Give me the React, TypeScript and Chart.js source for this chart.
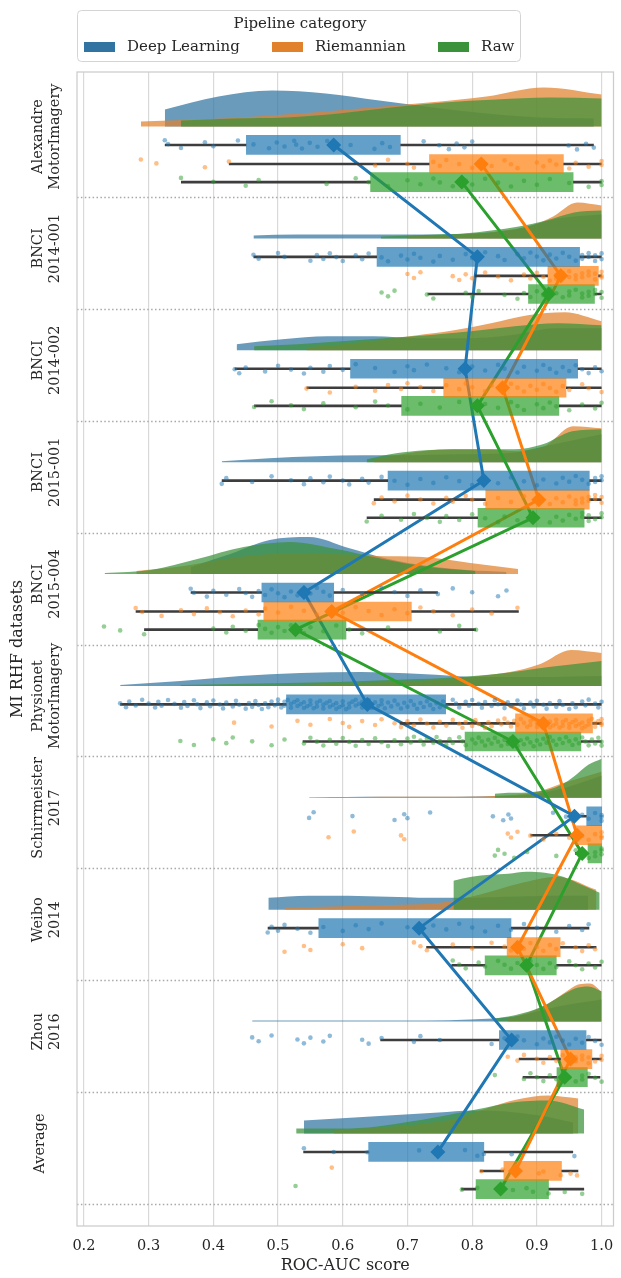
import { useEffect, useRef } from 'react';
import { Chart, registerables } from 'chart.js';

Chart.register(...registerables);

// rows of the plot, top to bottom (last row is the average over datasets)
const datasetNames: string[][] = [
  ['Alexandre', 'MotorImagery'],
  ['BNCI', '2014-001'],
  ['BNCI', '2014-002'],
  ['BNCI', '2015-001'],
  ['BNCI', '2015-004'],
  ['Physionet', 'MotorImagery'],
  ['Schirrmeister', '2017'],
  ['Weibo', '2014'],
  ['Zhou', '2016'],
  ['Average'],
];
const categories = ['Deep Learning', 'Riemannian', 'Raw'];
const xTicks = [0.2, 0.3, 0.4, 0.5, 0.6, 0.7, 0.8, 0.9, 1.0];

// box plot statistics (whisker low, q1, q3, whisker high, mean)
const dlLow = [0.325, 0.462, 0.433, 0.413, 0.365, 0.256, 0.951, 0.484, 0.658, 0.539];
const dlQ1 = [0.451, 0.653, 0.612, 0.670, 0.475, 0.513, 0.977, 0.563, 0.842, 0.640];
const dlQ3 = [0.689, 0.966, 0.963, 0.981, 0.586, 0.759, 1.0, 0.860, 0.976, 0.818];
const dlHigh = [0.988, 1.0, 1.0, 1.0, 0.747, 1.0, 1.0, 0.981, 1.0, 0.956];
const dlMean = [0.586, 0.808, 0.789, 0.818, 0.540, 0.638, 0.958, 0.718, 0.861, 0.747];

const rmLow = [0.424, 0.804, 0.544, 0.648, 0.280, 0.688, 0.890, 0.729, 0.872, 0.812];
const rmQ1 = [0.734, 0.917, 0.756, 0.821, 0.478, 0.867, 0.959, 0.854, 0.937, 0.849];
const rmQ3 = [0.941, 0.995, 0.945, 0.981, 0.706, 0.986, 1.0, 0.936, 0.985, 0.938];
const rmHigh = [1.0, 1.0, 1.0, 1.0, 0.872, 1.0, 1.0, 0.992, 1.0, 0.964];
const rmMean = [0.814, 0.937, 0.847, 0.903, 0.583, 0.910, 0.962, 0.870, 0.952, 0.867];

const rawLow = [0.350, 0.731, 0.463, 0.637, 0.293, 0.538, 0.959, 0.768, 0.878, 0.783];
const rawQ1 = [0.643, 0.887, 0.691, 0.809, 0.469, 0.789, 0.979, 0.820, 0.931, 0.806];
const rawQ3 = [0.956, 0.989, 0.934, 0.973, 0.605, 0.968, 1.0, 0.930, 0.978, 0.918];
const rawHigh = [1.0, 1.0, 1.0, 1.0, 0.806, 1.0, 1.0, 1.0, 0.998, 0.973];
const rawMean = [0.784, 0.918, 0.808, 0.894, 0.527, 0.863, 0.970, 0.884, 0.943, 0.844];

// half-violin density: [from, to, density samples evenly spread between]
const dlKde: [number, number, number[]][] = [
  [0.325, 0.988, [17, 30, 36, 33, 26, 19, 13, 9, 8]],
  [0.462, 1.0, [3, 4, 4, 4, 4, 5, 9, 20, 24]],
  [0.436, 1.0, [6, 11, 14, 14, 12, 12, 15, 22, 22]],
  [0.413, 1.0, [1, 4, 6, 7, 7, 8, 9, 18, 28]],
  [0.365, 0.853, [7, 20, 34, 37, 26, 15, 8, 4, 2]],
  [0.256, 1.0, [1, 5, 10, 13, 14, 12, 9, 9, 10]],
  [0.548, 1.0, [0.5, 0.7, 1, 1, 1, 1.5, 3, 10, 22]],
  [0.485, 0.979, [12, 14, 14, 13, 12, 12, 13, 14, 14]],
  [0.46, 1.0, [1, 1, 1, 1, 1, 2, 5, 15, 22]],
  [0.54, 0.956, [13, 15, 17, 19, 21, 23, 22, 18, 11]],
];
const rmKde: [number, number, number[]][] = [
  [0.288, 1.0, [5, 7, 10, 14, 19, 24, 30, 39, 32]],
  [0.70, 1.0, [2, 3, 4, 5, 8, 12, 22, 36, 33]],
  [0.544, 1.0, [3, 6, 10, 15, 20, 27, 35, 38, 29]],
  [0.648, 1.0, [3, 8, 12, 13, 13, 11, 16, 36, 34]],
  [0.281, 0.871, [3, 8, 16, 20, 20, 18, 17, 11, 5]],
  [0.432, 1.0, [1, 1, 1, 2, 3, 4, 5, 7, 10, 14, 22, 36, 33]],
  [0.578, 1.0, [0.5, 0.7, 1, 1, 1, 2, 5, 16, 26]],
  [0.51, 0.992, [2, 3, 4, 5, 7, 15, 26, 33, 20]],
  [0.855, 1.0, [3, 6, 10, 15, 22, 30, 37, 38, 30]],
  [0.586, 0.964, [3, 5, 7, 10, 15, 25, 34, 38, 35]],
];
const rawKde: [number, number, number[]][] = [
  [0.35, 1.0, [6, 8, 9, 13, 19, 24, 27, 29, 28]],
  [0.659, 1.0, [2, 3, 4, 5, 8, 12, 18, 26, 28]],
  [0.463, 1.0, [4, 6, 9, 12, 15, 19, 24, 27, 25]],
  [0.637, 1.0, [3, 9, 12, 13, 13, 13, 18, 31, 33]],
  [0.232, 0.805, [1, 4, 15, 27, 32, 25, 15, 7, 3]],
  [0.349, 1.0, [1, 2, 3, 4, 6, 8, 12, 19, 25]],
  [0.835, 1.0, [4, 5, 5, 6, 8, 13, 22, 33, 39]],
  [0.771, 0.997, [29, 33, 35, 36, 38, 37, 33, 25, 17]],
  [0.835, 1.0, [3, 5, 8, 12, 18, 26, 33, 35, 30]],
  [0.528, 0.973, [5, 5, 6, 11, 17, 24, 31, 33, 24]],
];

// individual scores (strip points), one list per dataset
const dlScores: number[][] = [
  [0.325, 0.33, 0.35, 0.387, 0.40, 0.438, 0.462, 0.486, 0.498, 0.51, 0.525, 0.528, 0.537, 0.549, 0.561, 0.576, 0.612, 0.649, 0.661, 0.673, 0.725, 0.749, 0.764, 0.776, 0.788, 0.80, 0.949, 0.962, 0.976, 0.988],
  [0.462, 0.47, 0.50, 0.51, 0.55, 0.56, 0.57, 0.58, 0.59, 0.60, 0.62, 0.63, 0.64, 0.66, 0.67, 0.69, 0.70, 0.71, 0.72, 0.74, 0.75, 0.77, 0.79, 0.80, 0.82, 0.84, 0.85, 0.87, 0.88, 0.89, 0.90, 0.91, 0.92, 0.93, 0.94, 0.95, 0.96, 0.97, 0.97, 0.98, 0.98, 0.99, 0.99, 1.0, 1.0],
  [0.433, 0.44, 0.45, 0.48, 0.50, 0.52, 0.54, 0.55, 0.57, 0.58, 0.60, 0.62, 0.65, 0.68, 0.70, 0.71, 0.73, 0.76, 0.78, 0.80, 0.82, 0.84, 0.85, 0.87, 0.88, 0.90, 0.91, 0.92, 0.93, 0.94, 0.95, 0.96, 0.97, 0.98, 0.99, 1.0],
  [0.413, 0.42, 0.46, 0.49, 0.52, 0.54, 0.55, 0.57, 0.58, 0.60, 0.61, 0.63, 0.64, 0.66, 0.68, 0.70, 0.72, 0.74, 0.76, 0.78, 0.80, 0.82, 0.84, 0.86, 0.88, 0.90, 0.91, 0.93, 0.94, 0.95, 0.96, 0.97, 0.98, 0.99, 0.99, 1.0, 1.0],
  [0.365, 0.37, 0.39, 0.40, 0.42, 0.44, 0.45, 0.46, 0.47, 0.48, 0.49, 0.50, 0.51, 0.52, 0.53, 0.54, 0.55, 0.56, 0.57, 0.58, 0.60, 0.63, 0.66, 0.68, 0.70, 0.72, 0.747, 0.77, 0.80, 0.84, 0.853],
  [0.256, 0.265, 0.27, 0.28, 0.29, 0.30, 0.31, 0.315, 0.32, 0.33, 0.34, 0.35, 0.355, 0.36, 0.37, 0.375, 0.38, 0.39, 0.395, 0.40, 0.41, 0.415, 0.42, 0.43, 0.435, 0.44, 0.45, 0.455, 0.46, 0.465, 0.47, 0.475, 0.48, 0.485, 0.49, 0.495, 0.50, 0.50, 0.505, 0.51, 0.51, 0.515, 0.52, 0.52, 0.525, 0.53, 0.53, 0.535, 0.54, 0.54, 0.545, 0.55, 0.55, 0.555, 0.56, 0.56, 0.565, 0.57, 0.57, 0.575, 0.58, 0.58, 0.585, 0.59, 0.59, 0.595, 0.60, 0.60, 0.605, 0.61, 0.61, 0.615, 0.62, 0.62, 0.625, 0.63, 0.63, 0.635, 0.64, 0.64, 0.645, 0.65, 0.655, 0.66, 0.66, 0.665, 0.67, 0.675, 0.68, 0.685, 0.69, 0.695, 0.70, 0.705, 0.71, 0.715, 0.72, 0.725, 0.73, 0.735, 0.74, 0.745, 0.75, 0.755, 0.76, 0.77, 0.775, 0.78, 0.79, 0.795, 0.80, 0.81, 0.815, 0.82, 0.83, 0.835, 0.84, 0.85, 0.855, 0.86, 0.87, 0.875, 0.88, 0.89, 0.895, 0.90, 0.91, 0.915, 0.92, 0.93, 0.935, 0.94, 0.95, 0.955, 0.96, 0.97, 0.975, 0.98, 0.99, 0.995, 1.0],
  [0.548, 0.555, 0.615, 0.68, 0.695, 0.70, 0.735, 0.832, 0.848, 0.856, 0.86, 0.925, 0.945, 0.955, 0.97, 0.98, 0.99, 1.0, 1.0, 1.0],
  [0.484, 0.49, 0.50, 0.51, 0.53, 0.55, 0.57, 0.60, 0.62, 0.64, 0.66, 0.70, 0.72, 0.74, 0.76, 0.78, 0.80, 0.82, 0.84, 0.86, 0.88, 0.90, 0.93, 0.95, 0.97, 0.98],
  [0.46, 0.47, 0.49, 0.53, 0.54, 0.55, 0.57, 0.58, 0.63, 0.64, 0.66, 0.71, 0.72, 0.75, 0.83, 0.85, 0.86, 0.87, 0.88, 0.90, 0.91, 0.92, 0.93, 0.94, 0.95, 0.96, 0.97, 0.98, 0.99, 1.0],
];
const rmScores: number[][] = [
  [0.288, 0.312, 0.387, 0.424, 0.65, 0.67, 0.70, 0.71, 0.74, 0.75, 0.76, 0.78, 0.80, 0.81, 0.83, 0.85, 0.86, 0.87, 0.90, 0.91, 0.92, 0.93, 0.95, 0.96, 0.98, 1.0, 1.0],
  [0.70, 0.71, 0.72, 0.77, 0.78, 0.79, 0.80, 0.82, 0.84, 0.86, 0.88, 0.89, 0.90, 0.91, 0.92, 0.93, 0.93, 0.94, 0.95, 0.95, 0.96, 0.96, 0.97, 0.97, 0.98, 0.98, 0.99, 0.99, 1.0, 1.0, 1.0],
  [0.544, 0.58, 0.62, 0.65, 0.67, 0.69, 0.70, 0.72, 0.74, 0.76, 0.78, 0.79, 0.80, 0.82, 0.83, 0.85, 0.86, 0.87, 0.88, 0.89, 0.90, 0.91, 0.92, 0.93, 0.94, 0.95, 0.97, 0.98, 1.0],
  [0.648, 0.66, 0.68, 0.70, 0.72, 0.74, 0.76, 0.77, 0.79, 0.80, 0.82, 0.84, 0.86, 0.88, 0.90, 0.92, 0.93, 0.94, 0.95, 0.96, 0.96, 0.97, 0.97, 0.98, 0.98, 0.99, 0.99, 1.0, 1.0],
  [0.28, 0.29, 0.32, 0.35, 0.37, 0.39, 0.41, 0.43, 0.45, 0.47, 0.48, 0.50, 0.52, 0.54, 0.56, 0.58, 0.60, 0.62, 0.64, 0.66, 0.68, 0.70, 0.72, 0.74, 0.77, 0.80, 0.83, 0.87],
  [0.432, 0.49, 0.53, 0.55, 0.58, 0.60, 0.61, 0.63, 0.65, 0.66, 0.68, 0.69, 0.70, 0.71, 0.72, 0.73, 0.74, 0.75, 0.76, 0.77, 0.78, 0.785, 0.79, 0.80, 0.805, 0.81, 0.82, 0.825, 0.83, 0.84, 0.845, 0.85, 0.855, 0.86, 0.865, 0.87, 0.875, 0.88, 0.885, 0.89, 0.89, 0.895, 0.90, 0.90, 0.905, 0.91, 0.91, 0.915, 0.92, 0.92, 0.925, 0.93, 0.93, 0.935, 0.94, 0.94, 0.945, 0.95, 0.95, 0.955, 0.96, 0.96, 0.965, 0.97, 0.97, 0.975, 0.98, 0.98, 0.985, 0.99, 0.99, 0.995, 1.0, 1.0, 1.0],
  [0.578, 0.617, 0.69, 0.695, 0.855, 0.86, 0.87, 0.89, 0.91, 0.93, 0.95, 0.96, 0.97, 0.98, 0.99, 1.0, 1.0, 1.0],
  [0.51, 0.54, 0.55, 0.60, 0.63, 0.71, 0.72, 0.73, 0.77, 0.80, 0.83, 0.85, 0.86, 0.87, 0.88, 0.89, 0.90, 0.91, 0.92, 0.93, 0.94, 0.96, 0.97, 0.98, 0.99],
  [0.855, 0.87, 0.88, 0.90, 0.91, 0.92, 0.93, 0.94, 0.95, 0.95, 0.96, 0.96, 0.97, 0.97, 0.98, 0.98, 0.99, 1.0, 1.0],
];
const rawScores: number[][] = [
  [0.35, 0.40, 0.45, 0.47, 0.575, 0.62, 0.64, 0.67, 0.70, 0.72, 0.74, 0.75, 0.77, 0.79, 0.80, 0.82, 0.84, 0.86, 0.88, 0.90, 0.92, 0.95, 0.98, 1.0, 1.0],
  [0.66, 0.67, 0.68, 0.73, 0.74, 0.79, 0.80, 0.81, 0.85, 0.87, 0.88, 0.89, 0.90, 0.91, 0.92, 0.93, 0.94, 0.95, 0.95, 0.96, 0.97, 0.97, 0.98, 0.98, 0.99, 0.99, 1.0, 1.0],
  [0.463, 0.49, 0.52, 0.54, 0.57, 0.62, 0.65, 0.67, 0.70, 0.72, 0.75, 0.78, 0.80, 0.81, 0.82, 0.84, 0.86, 0.87, 0.88, 0.90, 0.91, 0.92, 0.93, 0.95, 0.97, 0.99, 1.0],
  [0.637, 0.66, 0.69, 0.71, 0.73, 0.75, 0.76, 0.78, 0.80, 0.82, 0.84, 0.85, 0.87, 0.89, 0.90, 0.92, 0.93, 0.94, 0.95, 0.96, 0.97, 0.97, 0.98, 0.98, 0.99, 1.0, 1.0],
  [0.231, 0.256, 0.293, 0.40, 0.42, 0.43, 0.45, 0.47, 0.48, 0.49, 0.50, 0.51, 0.52, 0.53, 0.54, 0.55, 0.57, 0.59, 0.61, 0.63, 0.67, 0.75, 0.78, 0.806],
  [0.349, 0.37, 0.40, 0.42, 0.43, 0.46, 0.49, 0.51, 0.54, 0.55, 0.56, 0.57, 0.58, 0.59, 0.60, 0.61, 0.62, 0.63, 0.64, 0.65, 0.66, 0.67, 0.68, 0.69, 0.70, 0.705, 0.71, 0.72, 0.725, 0.73, 0.74, 0.745, 0.75, 0.76, 0.765, 0.77, 0.78, 0.785, 0.79, 0.80, 0.805, 0.81, 0.815, 0.82, 0.825, 0.83, 0.835, 0.84, 0.845, 0.85, 0.855, 0.86, 0.865, 0.87, 0.875, 0.88, 0.885, 0.89, 0.895, 0.90, 0.905, 0.91, 0.915, 0.92, 0.925, 0.93, 0.935, 0.94, 0.945, 0.95, 0.955, 0.96, 0.965, 0.97, 0.975, 0.98, 0.985, 0.99, 0.995, 1.0, 1.0],
  [0.835, 0.84, 0.85, 0.865, 0.885, 0.93, 0.96, 0.97, 0.98, 0.99, 0.99, 1.0, 1.0, 1.0],
  [0.77, 0.78, 0.79, 0.81, 0.82, 0.84, 0.85, 0.86, 0.87, 0.88, 0.89, 0.90, 0.91, 0.92, 0.93, 0.95, 0.96, 0.97, 0.98, 0.99, 1.0],
  [0.835, 0.88, 0.89, 0.90, 0.91, 0.92, 0.93, 0.94, 0.95, 0.96, 0.97, 0.97, 0.98, 0.99, 1.0],
];

const lineColors = ['#1f77b4', '#ff7f0e', '#2ca02c'];
const patchColors = ['#3274a1', '#e1812c', '#3a923a'];
const violinColors = ['rgba(50,116,161,0.72)', 'rgba(225,129,44,0.72)', 'rgba(58,146,58,0.72)'];
const boxColors = ['rgba(31,119,180,0.7)', 'rgba(255,127,14,0.7)', 'rgba(44,160,44,0.7)'];
const dotColors = ['rgba(31,119,180,0.5)', 'rgba(255,127,14,0.5)', 'rgba(44,160,44,0.5)'];

const FONT = '"DejaVu Serif", "Liberation Serif", serif';
const TEXT = '#262626';
const BASE = 0.37; // violin baseline inside a row
const ROW = [0.535, 0.705, 0.867]; // box rows inside a row
const KDE_SCALE = 1 / 111.9;

const jitter = (k: number) => ((((k * 7919) % 101) / 100) - 0.5) * 0.085;

function buildDatasets() {
  const groups = [
    { kde: dlKde, lo: dlLow, q1: dlQ1, q3: dlQ3, hi: dlHigh, mean: dlMean, pts: dlScores },
    { kde: rmKde, lo: rmLow, q1: rmQ1, q3: rmQ3, hi: rmHigh, mean: rmMean, pts: rmScores },
    { kde: rawKde, lo: rawLow, q1: rawQ1, q3: rawQ3, hi: rawHigh, mean: rawMean, pts: rawScores },
  ];
  const out: any[] = [];
  groups.forEach((g, ci) => {
    const rowY = (i: number) => i + ROW[ci];

    g.kde.forEach(([a, b, d], i) => {
      const base = i + BASE;
      out.push({
        type: 'line',
        data: d.map((h, k) => ({ x: a + (k * (b - a)) / (d.length - 1), y: base - h * KDE_SCALE })),
        fill: { value: base },
        backgroundColor: violinColors[ci],
        borderColor: 'rgba(0,0,0,0)',
        borderWidth: 0,
        pointRadius: 0,
        cubicInterpolationMode: 'monotone',
        order: 100 - ci,
      });
    });

    out.push({
      type: 'line',
      data: g.mean.map((m, i) => ({ x: m, y: rowY(i) })),
      borderColor: lineColors[ci],
      borderWidth: 3,
      pointRadius: 0,
      fill: false,
      order: 50,
    });

    out.push({
      type: 'bar',
      indexAxis: 'y',
      grouped: false,
      barThickness: 19,
      data: g.q1.map((q, i) => ({ x: [q, g.q3[i]], y: rowY(i) })),
      backgroundColor: boxColors[ci],
      borderWidth: 0,
      order: 40,
    });

    const whisk: any[] = [];
    g.lo.forEach((lo, i) => {
      const y = rowY(i);
      whisk.push({ x: lo, y }, { x: g.q1[i], y }, { x: g.q1[i], y: null });
      whisk.push({ x: g.q3[i], y }, { x: g.hi[i], y }, { x: g.hi[i], y: null });
    });
    out.push({
      type: 'line',
      data: whisk,
      borderColor: '#3d3d3d',
      borderWidth: 2.6,
      pointRadius: 0,
      spanGaps: false,
      fill: false,
      order: 30,
    });

    const dots: any[] = [];
    const rows = [...g.pts, g.mean.slice(0, 9)];
    rows.forEach((list, i) => {
      list.forEach((v, k) => dots.push({ x: v, y: rowY(i) + jitter(k + i * 13 + ci * 5) }));
    });
    out.push({
      type: 'scatter',
      data: dots,
      pointRadius: 2.3,
      pointBackgroundColor: dotColors[ci],
      pointBorderWidth: 0,
      order: 20,
    });

    out.push({
      type: 'scatter',
      data: g.mean.map((m, i) => ({ x: m, y: rowY(i) })),
      pointStyle: 'rectRot',
      pointRadius: 7.5,
      pointBackgroundColor: lineColors[ci],
      pointBorderWidth: 0,
      order: 10,
    });
  });
  return out;
}

const decorPlugin = {
  id: 'decor',
  beforeDatasetsDraw(chart: any) {
    const { ctx, chartArea: a, scales } = chart;
    ctx.save();
    ctx.strokeStyle = '#a8a8a8';
    ctx.lineWidth = 1.5;
    ctx.setLineDash([1.5, 2.4]);
    for (let i = 1; i <= datasetNames.length; i++) {
      const py = Math.round(scales.y.getPixelForValue(i)) + 0.5;
      ctx.beginPath();
      ctx.moveTo(a.left, py);
      ctx.lineTo(a.right, py);
      ctx.stroke();
    }
    ctx.restore();
  },
  afterDraw(chart: any) {
    const { ctx, chartArea: a, scales } = chart;
    ctx.save();
    // axes frame
    ctx.strokeStyle = '#cccccc';
    ctx.lineWidth = 1.25;
    ctx.strokeRect(a.left, a.top, a.right - a.left, a.bottom - a.top);

    // row labels, rotated
    ctx.fillStyle = TEXT;
    ctx.font = `14.5px ${FONT}`;
    ctx.textAlign = 'center';
    ctx.textBaseline = 'middle';
    datasetNames.forEach((lines, i) => {
      const py = scales.y.getPixelForValue(i + 0.46);
      lines.forEach((t, k) => {
        const px = lines.length === 1 ? 40 : 38 + k * 17;
        ctx.save();
        ctx.translate(px, py);
        ctx.rotate(-Math.PI / 2);
        ctx.fillText(t, 0, 0);
        ctx.restore();
      });
    });

    // y axis title
    ctx.font = `16px ${FONT}`;
    ctx.save();
    ctx.translate(18, (a.top + a.bottom) / 2);
    ctx.rotate(-Math.PI / 2);
    ctx.fillText('MI RHF datasets', 0, 0);
    ctx.restore();

    // legend
    ctx.fillStyle = 'rgba(255,255,255,0.8)';
    ctx.strokeStyle = '#d4d4d4';
    ctx.lineWidth = 1;
    ctx.beginPath();
    ctx.roundRect(77.5, 10.5, 443, 51, 4);
    ctx.fill();
    ctx.stroke();
    ctx.fillStyle = TEXT;
    ctx.font = `15px ${FONT}`;
    ctx.textAlign = 'center';
    ctx.fillText('Pipeline category', 300, 24);
    const patchX = [84, 272, 438];
    categories.forEach((c, ci) => {
      ctx.fillStyle = patchColors[ci];
      ctx.fillRect(patchX[ci], 42, 31, 10);
      ctx.fillStyle = TEXT;
      ctx.textAlign = 'left';
      ctx.fillText(c, patchX[ci] + 43, 47);
    });
    ctx.restore();
  },
};

export default function App() {
  const canvasRef = useRef<HTMLCanvasElement>(null);
  const chartRef = useRef<Chart | null>(null);

  useEffect(() => {
    document.body.style.margin = '0';
    if (!canvasRef.current) return;
    const ctx = canvasRef.current.getContext('2d');
    if (!ctx) return;
    if (chartRef.current) chartRef.current.destroy();

    chartRef.current = new Chart(ctx, {
      type: 'scatter',
      data: { datasets: buildDatasets() },
      options: {
        animation: false,
        responsive: false,
        devicePixelRatio: 1,
        layout: { padding: { top: 72, right: 1, bottom: 0, left: 0 } },
        plugins: { legend: { display: false }, tooltip: { enabled: false } },
        scales: {
          x: {
            type: 'linear',
            min: 0.1893,
            max: 1.0184,
            afterBuildTicks: (s: any) => {
              s.ticks = xTicks.map((v) => ({ value: v }));
            },
            afterFit: (s: any) => {
              s.height = 52;
              s.paddingLeft = 0;
              s.paddingRight = 0;
            },
            ticks: {
              callback: (v: any) => Number(v).toFixed(1),
              font: { family: FONT, size: 14.5 },
              color: TEXT,
              padding: 12,
            },
            grid: { color: '#d9d9d9', lineWidth: 1.2, drawTicks: false },
            border: { display: false },
            title: {
              display: true,
              text: 'ROC-AUC score',
              font: { family: FONT, size: 16 },
              color: TEXT,
              padding: { top: 0, bottom: 3 },
            },
          },
          y: {
            type: 'linear',
            min: -0.117,
            max: 10.197,
            reverse: true,
            offset: false,
            afterFit: (s: any) => {
              s.width = 77;
              s.paddingTop = 0;
              s.paddingBottom = 0;
            },
            ticks: { display: false },
            grid: { display: false },
            border: { display: false },
          },
        },
      } as any,
      plugins: [decorPlugin],
    });

    return () => {
      if (chartRef.current) {
        chartRef.current.destroy();
        chartRef.current = null;
      }
    };
  }, []);

  return <canvas ref={canvasRef} width={621} height={1278} style={{ display: 'block' }} />;
}
